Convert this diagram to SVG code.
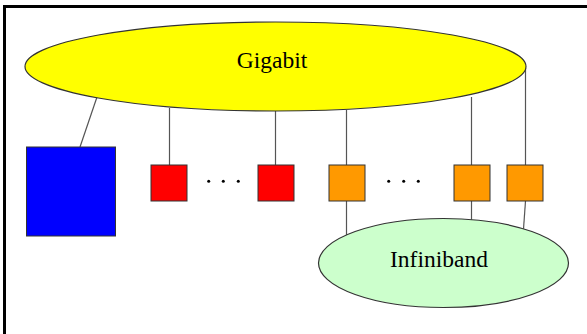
<svg xmlns="http://www.w3.org/2000/svg" width="587" height="334" viewBox="0 0 587 334">
  <style>
    .frame { fill: none; stroke: #000; stroke-width: 3; }
    .link { stroke: #555; stroke-width: 1.2; fill: none; }
    .box { stroke: #333; stroke-width: 1; }
    .net { stroke: #333; stroke-width: 1.2; }
    .label { font-family: "Liberation Serif", "Times New Roman", serif; font-size: 23.5px; fill: #000; text-anchor: middle; }
    .dot { fill: #000; }
  </style>
  <rect width="587" height="334" fill="#fff"/>
  <!-- outer frame: top and left edges only -->
  <path class="frame" d="M4.5,334 V6.5 H587"/>

  <g id="connectors">
    <line class="link" x1="97" y1="97" x2="80" y2="147"/>
    <line class="link" x1="169.5" y1="108" x2="169.5" y2="165"/>
    <line class="link" x1="275.5" y1="111" x2="275.5" y2="165"/>
    <line class="link" x1="346.5" y1="110" x2="346.5" y2="165"/>
    <line class="link" x1="471.5" y1="97" x2="471.5" y2="165"/>
    <line class="link" x1="525.5" y1="68" x2="525.5" y2="165"/>
    <line class="link" x1="346.5" y1="201" x2="346.5" y2="236"/>
    <line class="link" x1="471.5" y1="201" x2="471.5" y2="220"/>
    <line class="link" x1="525.5" y1="201" x2="523.5" y2="229"/>
  </g>

  <g id="gigabit">
    <ellipse class="net" cx="275.5" cy="66.5" rx="250.5" ry="44.5" fill="#ffff00"/>
    <text class="label" x="272" y="68">Gigabit</text>
  </g>

  <g id="infiniband">
    <ellipse class="net" cx="443.5" cy="263" rx="125" ry="44.5" fill="#ccffcc"/>
    <text class="label" x="439" y="267">Infiniband</text>
  </g>

  <g id="server">
    <rect class="box" x="26.5" y="147" width="89" height="89" fill="#0000ff"/>
  </g>

  <g id="red-node-1">
    <rect class="box" x="151" y="165" width="36" height="36" fill="#ff0000"/>
  </g>
  <g id="red-ellipsis">
    <circle class="dot" cx="208.7" cy="181.3" r="1.5"/>
    <circle class="dot" cx="223.3" cy="181.3" r="1.5"/>
    <circle class="dot" cx="238.3" cy="181.3" r="1.5"/>
  </g>
  <g id="red-node-2">
    <rect class="box" x="258" y="165" width="36" height="36" fill="#ff0000"/>
  </g>

  <g id="orange-node-1">
    <rect class="box" x="329" y="165" width="36" height="36" fill="#ff9900"/>
  </g>
  <g id="orange-ellipsis">
    <circle class="dot" cx="388.7" cy="181.3" r="1.5"/>
    <circle class="dot" cx="403.7" cy="181.3" r="1.5"/>
    <circle class="dot" cx="418.3" cy="181.3" r="1.5"/>
  </g>
  <g id="orange-node-2">
    <rect class="box" x="454" y="165" width="36" height="36" fill="#ff9900"/>
  </g>
  <g id="orange-node-3">
    <rect class="box" x="507" y="165" width="36" height="36" fill="#ff9900"/>
  </g>
</svg>
